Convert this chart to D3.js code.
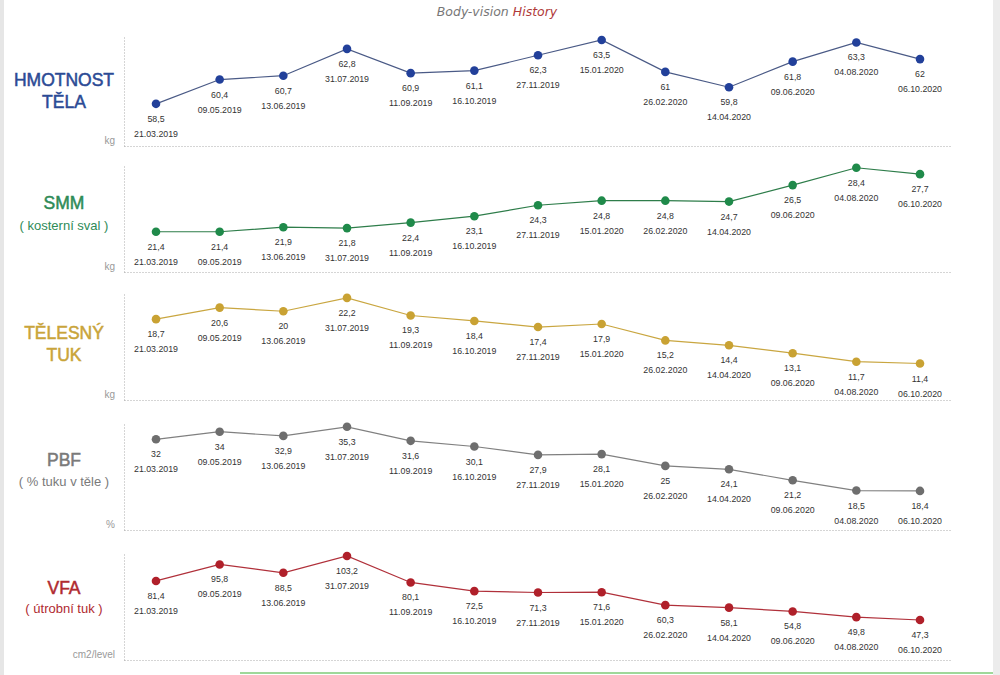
<!DOCTYPE html>
<html><head><meta charset="utf-8">
<script src="https://cdn.jsdelivr.net/npm/d3@7"></script>
<style>body{margin:0;background:#fff}svg{display:block}</style>
</head><body>
<svg id="c" width="1000" height="675"></svg>
<script>
const dates = ["21.03.2019","09.05.2019","13.06.2019","31.07.2019","11.09.2019","16.10.2019","27.11.2019","15.01.2020","26.02.2020","14.04.2020","09.06.2020","04.08.2020","06.10.2020"];
const weight = [58.5,60.4,60.7,62.8,60.9,61.1,62.3,63.5,61,59.8,61.8,63.3,62];
const smm = [21.4,21.4,21.9,21.8,22.4,23.1,24.3,24.8,24.8,24.7,26.5,28.4,27.7];
const fat = [18.7,20.6,20,22.2,19.3,18.4,17.4,17.9,15.2,14.4,13.1,11.7,11.4];
const pbf = [32,34,32.9,35.3,31.6,30.1,27.9,28.1,25,24.1,21.2,18.5,18.4];
const vfa = [81.4,95.8,88.5,103.2,80.1,72.5,71.3,71.6,60.3,58.1,54.8,49.8,47.3];
const titles = [["HMOTNOST","TĚLA"],["SMM","( kosterní sval )"],["TĚLESNÝ","TUK"],["PBF","( % tuku v těle )"],["VFA","( útrobní tuk )"]];
const units = ["kg","kg","kg","%","cm2/level"];

const panels = [
  {v:weight, dom:[55.2,63.73], top:37, base:146, col:"#22409a", line:"#4a5a86", tcol:"#2b4a95", t2big:true, ty:[80,102]},
  {v:smm, dom:[17.0,28.7], top:165, base:272, col:"#1f8a4a", line:"#2e7d4a", tcol:"#2e8b57", t2big:false, ty:[203,225]},
  {v:fat, dom:[5.4,23.0], top:293, base:400, col:"#c9a233", line:"#c9a640", tcol:"#c9a43a", t2big:true, ty:[333,355]},
  {v:pbf, dom:[8.1,36.3], top:423, base:530, col:"#6e6e6e", line:"#808080", tcol:"#7a7a7a", t2big:false, ty:[460,481]},
  {v:vfa, dom:[12.4,105.8], top:553, base:660, col:"#b0202a", line:"#b0303a", tcol:"#b02a30", t2big:false, ty:[588,608]}
];

const svg = d3.select("#c");
svg.append("rect").attr("x",0).attr("y",0).attr("width",4).attr("height",675).attr("fill","#e6e6e6");
svg.append("rect").attr("x",993).attr("y",0).attr("width",7).attr("height",675).attr("fill","#ececec");
svg.append("line").attr("x1",240).attr("x2",993).attr("y1",673).attr("y2",673).attr("stroke","#9fd89a").attr("stroke-width",2);

const title = svg.append("text").attr("x",497).attr("y",16).attr("text-anchor","middle")
  .attr("font-family","'DejaVu Sans', sans-serif").attr("font-style","italic").attr("font-size",12.5);
title.append("tspan").attr("fill","#777").text("Body-vision ");
title.append("tspan").attr("fill","#b03a3a").text("History");

const x = d3.scalePoint().domain(dates).range([156,920]);
const font = "'Liberation Sans', Arial, sans-serif";

panels.forEach((p,i)=>{
  const y = d3.scaleLinear().domain(p.dom).range([p.base,p.top]);
  const g = svg.append("g");
  const yAxis = g.append("g").attr("transform",`translate(124,0)`).call(d3.axisLeft(y).ticks(0).tickSize(0));
  yAxis.select(".domain").attr("stroke","#aaa").attr("stroke-dasharray","1,2");
  const xs = d3.scaleLinear().domain([0,1]).range([124,952]);
  const xAxis = g.append("g").attr("transform",`translate(0,${p.base})`).call(d3.axisBottom(xs).ticks(0).tickSize(0));
  xAxis.select(".domain").attr("stroke","#aaa").attr("stroke-dasharray","1,2");

  const line = d3.line().x((d,j)=>x(dates[j])).y(d=>y(d));
  g.append("path").datum(p.v).attr("d",line).attr("fill","none").attr("stroke",p.line).attr("stroke-width",1.2);
  g.selectAll("circle").data(p.v).join("circle")
    .attr("cx",(d,j)=>x(dates[j])).attr("cy",d=>y(d)).attr("r",4.3).attr("fill",p.col);
  g.selectAll("text.val").data(p.v).join("text").attr("class","val")
    .attr("x",(d,j)=>x(dates[j])).attr("y",d=>y(d)+18).attr("text-anchor","middle")
    .attr("font-family",font).attr("font-size",8.8).attr("fill","#333")
    .text(d=>String(d).replace(".",","));
  g.selectAll("text.dt").data(p.v).join("text").attr("class","dt")
    .attr("x",(d,j)=>x(dates[j])).attr("y",d=>y(d)+33).attr("text-anchor","middle")
    .attr("font-family",font).attr("font-size",8.8).attr("fill","#333")
    .text((d,j)=>dates[j]);

  g.append("text").attr("x",64).attr("y",p.ty[0]).attr("dy","0.35em").attr("text-anchor","middle")
    .attr("font-family",font).attr("font-size",17.5).attr("fill",p.tcol)
    .attr("stroke",p.tcol).attr("stroke-width",0.5).text(titles[i][0]);
  const t2 = g.append("text").attr("x",64).attr("y",p.ty[1]).attr("dy","0.35em").attr("text-anchor","middle")
    .attr("font-family",font).attr("font-size",p.t2big?17.5:13).attr("fill",p.tcol).text(titles[i][1]);
  if (p.t2big) t2.attr("stroke",p.tcol).attr("stroke-width",0.5);
  g.append("text").attr("x",115).attr("y",p.base-2).attr("text-anchor","end")
    .attr("font-family",font).attr("font-size",10).attr("fill","#999").text(units[i]);
});
</script>
</body></html>
